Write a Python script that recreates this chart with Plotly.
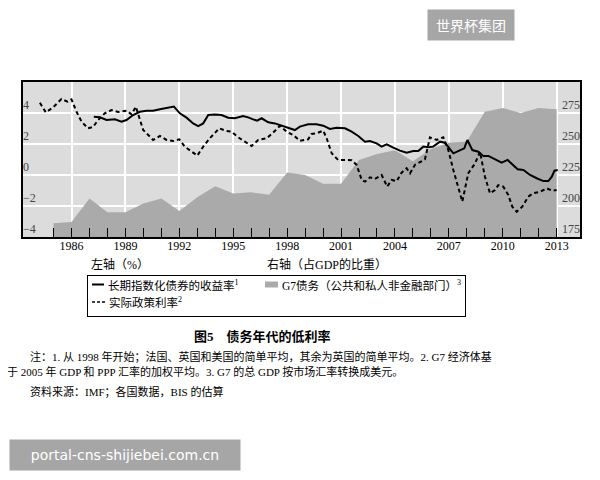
import plotly.graph_objects as go

# ---------------- data ----------------
# G7 debt (public and private non-financial sectors), % of GDP, right axis
g7_years = list(range(1985, 2014))
g7_debt = [186, 187, 206, 195, 195, 202, 206, 196, 207, 216, 210, 211, 209, 227,
           225, 218, 218, 237, 242, 245, 236, 246, 251, 252, 276, 279, 275, 279, 278]

# Long-term index-linked bond yield, %, left axis
bond_x = [1987.24, 1987.58, 1987.95, 1988.41, 1988.78, 1989.06, 1989.43, 1989.8, 1990.18,
          1990.54, 1990.92, 1991.38, 1991.7, 1992.03, 1992.4, 1992.77, 1993.05, 1993.33,
          1993.61, 1993.98, 1994.35, 1994.72, 1995.09, 1995.55, 1995.83, 1996.11, 1996.33,
          1996.58, 1996.95, 1997.32, 1997.69, 1998.06, 1998.43, 1998.71, 1999.17, 1999.64,
          2000.01, 2000.38, 2000.75, 2001.22, 2001.59, 2001.96, 2002.33, 2002.61, 2002.98,
          2003.26, 2003.54, 2003.91, 2004.28, 2004.65, 2005.02, 2005.3, 2005.58, 2005.86,
          2006.13, 2006.51, 2006.78, 2007.25, 2007.62, 2007.86, 2008.03, 2008.31, 2008.64,
          2008.92, 2009.2, 2009.57, 2009.94, 2010.27, 2010.53, 2010.83, 2011.15, 2011.52,
          2011.89, 2012.26, 2012.54, 2012.73, 2012.88, 2013.06]
bond_y = [3.76, 3.72, 3.55, 3.59, 3.44, 3.55, 3.87, 4.08, 4.15,
          4.15, 4.24, 4.34, 4.41, 3.98, 3.70, 3.33, 3.16, 3.33,
          3.87, 3.91, 3.87, 3.70, 3.66, 3.80, 3.72, 3.59, 3.50,
          3.66, 3.40, 3.33, 3.18, 3.05, 2.90, 3.12, 3.27, 3.27,
          3.18, 2.97, 3.05, 3.01, 2.80, 2.52, 2.15, 2.19, 2.04,
          1.83, 1.98, 1.76, 1.57, 1.44, 1.55, 1.55, 1.83, 1.79,
          1.83, 2.15, 2.08, 1.40, 1.61, 1.72, 2.26, 1.61, 1.50,
          1.23, 1.23, 1.01, 0.79, 0.97, 0.71, 0.37, 0.32, 0.00,
          -0.21, -0.39, -0.39, -0.11, 0.28, 0.32]

# Real policy rate, %, left axis
policy_x = [1984.24, 1984.57, 1984.98, 1985.44, 1985.78, 1986.0, 1986.28, 1986.56, 1986.92,
            1987.2, 1987.48, 1987.85, 1988.23, 1988.6, 1989.06, 1989.34, 1989.58, 1989.99,
            1990.27, 1990.54, 1990.92, 1991.29, 1991.66, 1992.0, 1992.3, 1992.68, 1993.0,
            1993.33, 1993.7, 1994.22, 1994.63, 1994.9, 1995.28, 1995.65, 1996.02, 1996.39,
            1996.86, 1997.22, 1997.6, 1997.97, 1998.34, 1998.71, 1999.17, 1999.36, 1999.64,
            2000.01, 2000.2, 2000.48, 2000.84, 2001.22, 2001.59, 2001.87, 2002.15, 2002.33,
            2002.61, 2002.89, 2003.26, 2003.57, 2003.82, 2004.1, 2004.37, 2004.65, 2004.84,
            2005.11, 2005.49, 2005.67, 2005.95, 2006.32, 2006.69, 2006.97, 2007.25, 2007.53,
            2007.75, 2008.08, 2008.46, 2008.73, 2009.01, 2009.29, 2009.57, 2009.75, 2010.03,
            2010.31, 2010.53, 2010.78, 2011.09, 2011.42, 2011.7, 2012.08, 2012.45, 2012.73,
            2013.0]
policy_y = [4.66, 4.04, 4.37, 4.90, 4.73, 4.88, 4.08, 3.44, 3.01,
            3.10, 3.55, 3.98, 4.19, 4.06, 4.15, 3.91, 4.41, 2.90,
            2.58, 2.26, 2.52, 2.26, 2.19, 2.30, 1.83, 1.50, 1.25,
            1.83, 2.37, 3.01, 2.84, 2.80, 2.43, 2.15, 1.87, 2.26,
            2.37, 2.73, 3.18, 2.80, 2.58, 2.21, 2.30, 2.65, 2.69,
            2.86, 2.37, 1.40, 0.97, 0.97, 0.95, 0.65, -0.32, -0.43,
            -0.15, -0.25, 0.00, -0.75, -0.32, -0.40, 0.15, 0.43, 0.11,
            0.65, 0.92, 1.01, 2.43, 2.26, 2.43, 1.61, 0.32, -0.75,
            -1.72, 0.11, 0.75, 1.50, -0.11, -1.18, -0.97, -0.65, -0.75,
            -1.29, -2.04, -2.37, -2.04, -1.40, -1.18, -1.08, -0.86, -1.01,
            -0.97]

series_names = ["长期指数化债券的收益率<sup>1</sup>",
                "G7债务（公共和私人非金融部门）<sup>3</sup>",
                "实际政策利率<sup>2</sup>"]

year_ticks = list(range(1986, 2014, 3))
minor_ticks = list(range(1985, 2014))
left_ticks = [-4, -2, 0, 2, 4]
right_ticks = [175, 200, 225, 250, 275]

SERIF = "Liberation Serif, Noto Sans CJK SC, serif"
FILL = "#aaaaaa"

fig = go.Figure()
fig.add_trace(go.Scatter(
    x=g7_years, y=g7_debt, xaxis="x", yaxis="y", mode="lines",
    fill="tozeroy", fillcolor=FILL, line=dict(width=0, color=FILL),
    name=series_names[1], showlegend=False))
fig.add_trace(go.Scatter(
    x=bond_x, y=bond_y, xaxis="x", yaxis="y2", mode="lines",
    line=dict(color="black", width=2),
    name=series_names[0], showlegend=False))
fig.add_trace(go.Scatter(
    x=policy_x, y=policy_y, xaxis="x", yaxis="y2", mode="lines",
    line=dict(color="black", width=2, dash="4px,3px"),
    name=series_names[2], showlegend=False))

# The page body adds an 8px margin, so the figure is 8px smaller than the window.
fig.update_layout(
    width=592, height=472,
    margin=dict(l=15, r=20, t=74, b=243),
    paper_bgcolor="white", plot_bgcolor="#dcdcdc",
    font=dict(family=SERIF, size=12, color="black"),
    xaxis=dict(
        range=[1983.3, 2014.3], tickmode="array", tickvals=year_ticks,
        ticks="inside", ticklen=9, tickwidth=1.3, tickcolor="black",
        minor=dict(tickmode="array", tickvals=minor_ticks, ticks="inside",
                   ticklen=9, tickwidth=1.3, tickcolor="black", showgrid=False),
        showgrid=True, gridcolor="white", gridwidth=1.5,
        showline=True, linecolor="black", linewidth=1.5, mirror=True,
        ticklabelstandoff=-3,
        zeroline=False, tickfont=dict(family=SERIF, size=12)),
    yaxis=dict(
        side="right", range=[175, 300], tickmode="array", tickvals=right_ticks,
        ticklabelposition="inside top", ticks="",
        ticklabelstandoff=-1,
        showgrid=True, gridcolor="white", gridwidth=1.5,
        showline=True, linecolor="black", linewidth=1.5, mirror=True,
        zeroline=False, tickfont=dict(family=SERIF, size=12)),
    yaxis2=dict(
        overlaying="y", side="left", anchor="x", range=[-4, 6], tickmode="array",
        tickvals=left_ticks, ticklabelposition="inside top", ticks="",
        ticklabelstandoff=-3,
        showgrid=False, zeroline=False, showline=False,
        tickfont=dict(family=SERIF, size=12)),
    showlegend=False,
)

def px_x(px):
    return (px - 23) / 557.0

def px_y(py):
    return (237 - py) / 155.0

# ---- legend (drawn as decoration) ----
fig.add_annotation(text=" ", x=px_x(276.5), y=px_y(296), xref="paper", yref="paper",
                   xanchor="center", yanchor="middle", showarrow=False,
                   width=377, height=40, bgcolor="rgba(0,0,0,0)", bordercolor="black",
                   borderwidth=1, borderpad=0, font=dict(size=10))
fig.add_shape(type="line", xref="paper", yref="paper", layer="above",
              x0=px_x(92), x1=px_x(104), y0=px_y(284.5), y1=px_y(284.5),
              line=dict(color="black", width=2))
fig.add_shape(type="rect", xref="paper", yref="paper", layer="above",
              x0=px_x(265), x1=px_x(278), y0=px_y(287.5), y1=px_y(281.5),
              line=dict(width=0), fillcolor=FILL)
fig.add_shape(type="line", xref="paper", yref="paper", layer="above",
              x0=px_x(92), x1=px_x(105), y0=px_y(302), y1=px_y(302),
              line=dict(color="black", width=1.5, dash="3px,2px"))

legend_texts = [(series_names[0], 106, 284.5), (series_names[1], 280, 284.5),
                (series_names[2], 107, 302)]
for txt, lx, ly in legend_texts:
    fig.add_annotation(text=txt, x=px_x(lx), y=px_y(ly), xref="paper", yref="paper",
                       xanchor="left", yanchor="middle", showarrow=False,
                       font=dict(family=SERIF, size=11.5, color="black"))

notes = [
    dict(text="左轴（%）", x=px_x(89), y=px_y(264), size=12, anchor="left"),
    dict(text="右轴（占GDP的比重）", x=px_x(265), y=px_y(264), size=12, anchor="left"),
    dict(text="<b>图5　债务年代的低利率</b>", x=px_x(262), y=px_y(336), size=13, anchor="center"),
    dict(text="注：1. 从 1998 年开始；法国、英国和美国的简单平均，其余为英国的简单平均。2. G7 经济体基",
         x=px_x(28), y=px_y(356), size=11, anchor="left"),
    dict(text="于 2005 年 GDP 和 PPP 汇率的加权平均。3. G7 的总 GDP 按市场汇率转换成美元。",
         x=px_x(5), y=px_y(371), size=11, anchor="left"),
    dict(text="资料来源：IMF；各国数据，BIS 的估算",
         x=px_x(28), y=px_y(391), size=11, anchor="left"),
]
for n in notes:
    fig.add_annotation(text=n["text"], x=n["x"], y=n["y"], xref="paper", yref="paper",
                       xanchor=n["anchor"], yanchor="middle", showarrow=False,
                       font=dict(family=SERIF, size=n["size"], color="black"))

# watermarks
fig.add_annotation(text="世界杯集团", x=px_x(471), y=px_y(25), xref="paper", yref="paper",
                   xanchor="center", yanchor="middle", showarrow=False,
                   width=86, height=30, bgcolor="#a6a6a6", borderpad=0,
                   font=dict(family="Noto Sans CJK SC", size=14, color="white"))
fig.add_annotation(text="portal-cns-shijiebei.com.cn", x=px_x(125), y=px_y(455),
                   xref="paper", yref="paper", xanchor="center", yanchor="middle",
                   showarrow=False, width=230, height=30, bgcolor="#a6a6a6", borderpad=0,
                   font=dict(family="DejaVu Sans", size=14, color="white"))

fig.write_html("out.html")
